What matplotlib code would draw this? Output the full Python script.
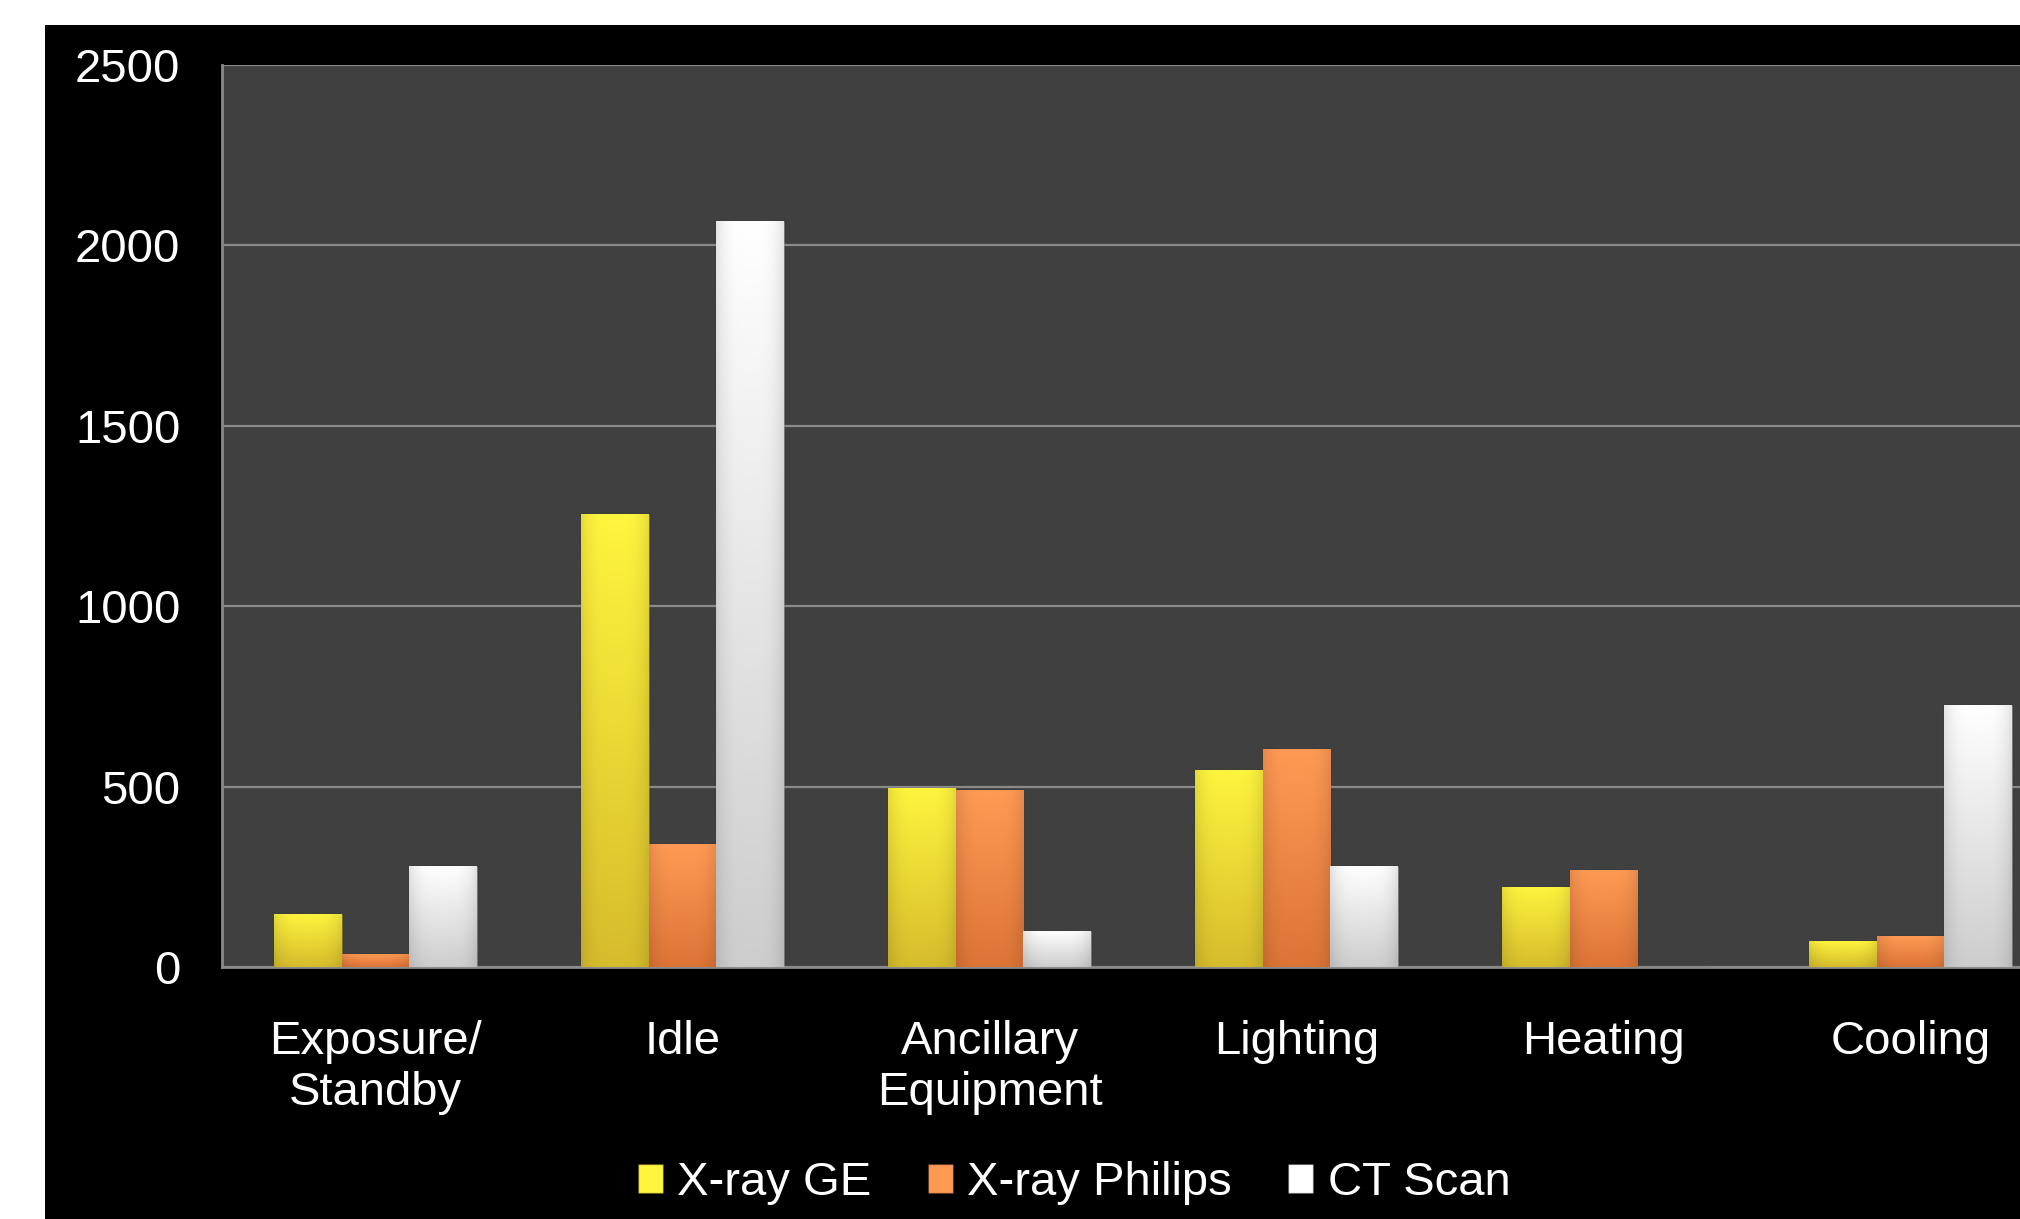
import matplotlib.pyplot as plt
import numpy as np
from matplotlib.patches import Rectangle

plt.rcParams['font.family'] = ['Liberation Sans', 'DejaVu Sans']

categories = ["Exposure/\nStandby", "Idle", "Ancillary\nEquipment", "Lighting", "Heating", "Cooling"]
series_names = ["X-ray GE", "X-ray Philips", "CT Scan"]
xray_ge = [148, 1255, 497, 545, 222, 72]
xray_philips = [37, 340, 490, 605, 270, 86]
ct_scan = [280, 2067, 100, 280, 0, 725]
y_ticks = [0, 500, 1000, 1500, 2000, 2500]

# (top colour, bottom colour) for the shaded bars
shades = [("#FFF43E", "#D6BC2C"), ("#FF9A55", "#DC7436"), ("#FFFFFF", "#CDCDCD")]

W, H = 2020, 1219
fig = plt.figure(figsize=(W / 100, H / 100), dpi=100, facecolor="white")
fig.patches.append(Rectangle((45 / W, 0), 1, 1 - 25 / H, transform=fig.transFigure,
                             facecolor="black", edgecolor="none", zorder=-1))

ax = fig.add_axes([222 / W, (H - 967) / H, (2064 - 222) / W, (967 - 65) / H])
ax.set_facecolor("#404040")

x = np.arange(len(categories))
bw = 0.22
data = [xray_ge, xray_philips, ct_scan]


def shaded(c_top, c_bot):
    t = np.array(plt.matplotlib.colors.to_rgb(c_top))
    b = np.array(plt.matplotlib.colors.to_rgb(c_bot))
    v = np.linspace(0, 1, 100)[:, None, None]
    img = t * (1 - v) + b * v
    h = np.linspace(-1, 1, 40)[None, :, None]
    edge = 1 - 0.10 * np.clip(np.abs(h) * 1.15 - 0.15, 0, 1) ** 3
    return np.clip(img * edge, 0, 1)


handles = []
for i, vals in enumerate(data):
    bars = ax.bar(x + (i - 1) * bw, vals, bw, color=shades[i][0],
                  edgecolor="#00000040", linewidth=1, zorder=3, label=series_names[i])
    handles.append(bars)
    img = shaded(*shades[i])
    for r in bars:
        if r.get_height() <= 0:
            continue
        x0, y0 = r.get_x(), r.get_y()
        im = ax.imshow(img, extent=[x0, x0 + r.get_width(), y0, y0 + r.get_height()],
                       aspect="auto", zorder=3.5, interpolation="bilinear")
        im.set_clip_path(r)

ax.set_xlim(-0.5, len(categories) - 0.5)
ax.set_ylim(0, 2500)
ax.set_yticks(y_ticks)
ax.set_xticks(x)
ax.set_xticklabels(categories)
ax.tick_params(axis="both", length=0, colors="white", labelsize=34)
ax.tick_params(axis="y", pad=30)
ax.tick_params(axis="x", pad=38)
for lab in ax.get_xticklabels():
    lab.set_linespacing(1.22)
ax.grid(axis="y", color="#8A8A8A", linewidth=1.6, zorder=1)
ax.set_axisbelow(True)
for s in ["top", "right"]:
    ax.spines[s].set_visible(False)
for s in ["left", "bottom"]:
    ax.spines[s].set_color("#8A8A8A")
    ax.spines[s].set_linewidth(2)

leg = fig.legend(handles=handles, labels=series_names, loc="center",
                 bbox_to_anchor=(1074 / W, 1 - 1183 / H), ncol=3, frameon=False,
                 fontsize=34, handlelength=0.53, handleheight=0.55, handletextpad=0.3,
                 columnspacing=1.2, labelcolor="white")

fig.savefig("out.png", dpi=100, facecolor=fig.get_facecolor())
